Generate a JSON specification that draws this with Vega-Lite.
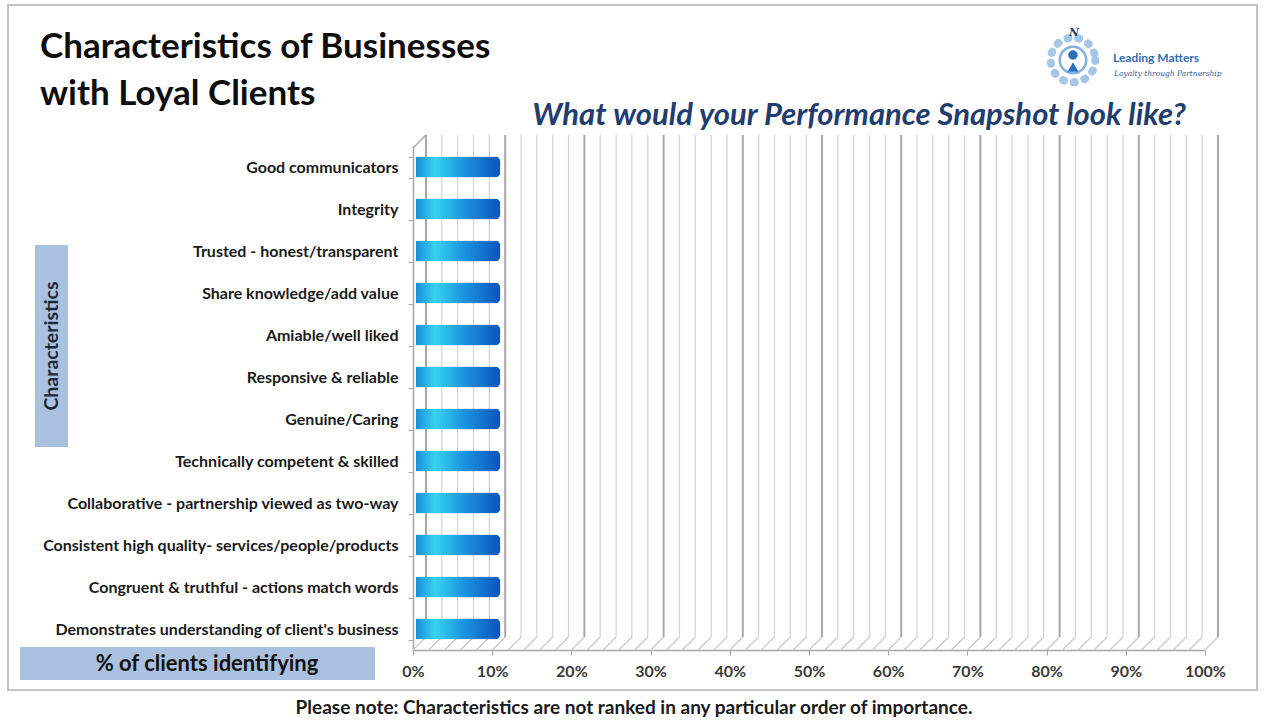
{
  "$schema": "https://vega.github.io/schema/vega-lite/v6.json",
  "width": 792,
  "height": 504,
  "autosize": "none",
  "padding": {"left": 413, "top": 146, "right": 59, "bottom": 72},
  "background": "white",
  "config": {"view": {"stroke": null}, "font": "Lato"},
  "datasets": {
    "bars": [
      {"characteristic": "Good communicators", "pct": 11},
      {"characteristic": "Integrity", "pct": 11},
      {"characteristic": "Trusted - honest/transparent", "pct": 11},
      {"characteristic": "Share knowledge/add value", "pct": 11},
      {"characteristic": "Amiable/well liked", "pct": 11},
      {"characteristic": "Responsive & reliable", "pct": 11},
      {"characteristic": "Genuine/Caring", "pct": 11},
      {"characteristic": "Technically competent & skilled", "pct": 11},
      {"characteristic": "Collaborative - partnership viewed as two-way", "pct": 11},
      {"characteristic": "Consistent high quality- services/people/products", "pct": 11},
      {"characteristic": "Congruent & truthful - actions match words", "pct": 11},
      {"characteristic": "Demonstrates understanding of client's business", "pct": 11}
    ],
    "grid": [
      {"g": 0},{"g": 2},{"g": 4},{"g": 6},{"g": 8},{"g": 10},{"g": 12},{"g": 14},{"g": 16},{"g": 18},
      {"g": 20},{"g": 22},{"g": 24},{"g": 26},{"g": 28},{"g": 30},{"g": 32},{"g": 34},{"g": 36},{"g": 38},
      {"g": 40},{"g": 42},{"g": 44},{"g": 46},{"g": 48},{"g": 50},{"g": 52},{"g": 54},{"g": 56},{"g": 58},
      {"g": 60},{"g": 62},{"g": 64},{"g": 66},{"g": 68},{"g": 70},{"g": 72},{"g": 74},{"g": 76},{"g": 78},
      {"g": 80},{"g": 82},{"g": 84},{"g": 86},{"g": 88},{"g": 90},{"g": 92},{"g": 94},{"g": 96},{"g": 98},
      {"g": 100}
    ],
    "one": [{}]
  },
  "layer": [
    {
      "data": {"name": "one"},
      "mark": {"type": "rect", "fill": null, "stroke": "#c4c4c4", "strokeWidth": 2, "clip": false},
      "encoding": {
        "x": {"value": -405}, "x2": {"value": 844},
        "y": {"value": -141}, "y2": {"value": 544}
      }
    },
    {
      "data": {"name": "grid"},
      "mark": {"type": "rule", "xOffset": 13},
      "encoding": {
        "x": {"field": "g", "type": "quantitative", "scale": {"domain": [0, 100]}},
        "y": {"value": -11},
        "y2": {"value": 491},
        "color": {"condition": {"test": "datum.g % 10 === 0", "value": "#a8a8a8"}, "value": "#d6d6d6"},
        "strokeWidth": {"condition": {"test": "datum.g % 10 === 0", "value": 2}, "value": 1.3}
      }
    },
    {
      "data": {"name": "grid"},
      "mark": {"type": "rule", "x2Offset": 13},
      "encoding": {
        "x": {"field": "g", "type": "quantitative", "scale": {"domain": [0, 100]}},
        "x2": {"field": "g"},
        "y": {"value": 504},
        "y2": {"value": 491},
        "color": {"value": "#c8c8c8"},
        "strokeWidth": {"value": 1.2}
      }
    },
    {
      "data": {"name": "one"},
      "mark": {"type": "rule", "color": "#a8a8a8", "strokeWidth": 1.5, "clip": false},
      "encoding": {
        "x": {"value": 0}, "x2": {"value": 13},
        "y": {"value": 2}, "y2": {"value": -11}
      }
    },
    {
      "data": {"name": "bars"},
      "mark": {
        "type": "bar",
        "cornerRadius": 5,
        "xOffset": 3,
        "x2Offset": 3,
        "color": {
          "gradient": "linear",
          "x1": 0, "y1": 0, "x2": 1, "y2": 0,
          "stops": [
            {"offset": 0, "color": "#1a8edb"},
            {"offset": 0.22, "color": "#36d2ee"},
            {"offset": 0.55, "color": "#1b94df"},
            {"offset": 1, "color": "#0a4fb8"}
          ]
        }
      },
      "encoding": {
        "y": {
          "field": "characteristic", "type": "nominal", "sort": null,
          "scale": {"paddingInner": 0.5, "paddingOuter": 0.25},
          "axis": {
            "title": null,
            "labelFont": "Lato", "labelFontWeight": "bold", "labelFontSize": 16,
            "labelColor": "#1a1a1a", "labelPadding": 10, "labelLimit": 420,
            "tickBand": "extent", "tickSize": 5, "tickColor": "#a8a8a8",
            "domainColor": "#a8a8a8", "domainWidth": 1.5
          }
        },
        "x": {
          "field": "pct", "type": "quantitative",
          "scale": {"domain": [0, 100]},
          "axis": {
            "title": null, "grid": false,
            "values": [0, 10, 20, 30, 40, 50, 60, 70, 80, 90, 100],
            "labelExpr": "datum.value + '%'",
            "labelFlush": false, "labelAlign": "center", "labelOverlap": false,
            "labelFont": "Lato", "labelFontWeight": "bold", "labelFontSize": 16,
            "labelColor": "#3a3a3a", "labelPadding": 8,
            "tickSize": 5, "tickColor": "#a8a8a8", "domainColor": "#a8a8a8", "domainWidth": 1.5
          }
        },
        "size": {"value": 21}
      }
    },
    {
      "data": {"name": "one"},
      "mark": {"type": "text", "align": "left", "baseline": "alphabetic", "fontSize": 35, "fontWeight": "bold", "font": "Lato", "color": "#0d0d0d", "x": -373, "y": -88},
      "encoding": {"text": {"value": "Characteristics of Businesses"}}
    },
    {
      "data": {"name": "one"},
      "mark": {"type": "text", "align": "left", "baseline": "alphabetic", "fontSize": 35, "fontWeight": "bold", "font": "Lato", "color": "#0d0d0d", "x": -373, "y": -41},
      "encoding": {"text": {"value": "with Loyal Clients"}}
    },
    {
      "data": {"name": "one"},
      "mark": {"type": "text", "align": "center", "baseline": "alphabetic", "fontSize": 31, "fontWeight": "bold", "fontStyle": "italic", "font": "Lato", "color": "#1f3d6e", "x": 446, "y": -21},
      "encoding": {"text": {"value": "What would your Performance Snapshot look like?"}}
    },
    {
      "data": {"name": "one"},
      "mark": {"type": "rect", "fill": "#a9c0de", "clip": false},
      "encoding": {"x": {"value": -378}, "x2": {"value": -345}, "y": {"value": 99}, "y2": {"value": 301}}
    },
    {
      "data": {"name": "one"},
      "mark": {"type": "text", "align": "center", "baseline": "middle", "angle": 270, "fontSize": 19.5, "fontWeight": "bold", "font": "Lato", "color": "#1c2838", "x": -361, "y": 200},
      "encoding": {"text": {"value": "Characteristics"}}
    },
    {
      "data": {"name": "one"},
      "mark": {"type": "rect", "fill": "#a9c0de", "clip": false},
      "encoding": {"x": {"value": -393}, "x2": {"value": -38}, "y": {"value": 501}, "y2": {"value": 534}}
    },
    {
      "data": {"name": "one"},
      "mark": {"type": "text", "align": "center", "baseline": "middle", "fontSize": 22, "fontWeight": "bold", "font": "Lato", "color": "#111111", "x": -206, "y": 518},
      "encoding": {"text": {"value": "% of clients identifying"}}
    },
    {
      "data": {"name": "one"},
      "mark": {"type": "text", "align": "center", "baseline": "middle", "fontSize": 19, "fontWeight": "bold", "font": "Lato", "color": "#1a1a1a", "x": 221, "y": 562},
      "encoding": {"text": {"value": "Please note:  Characteristics are not ranked in any particular order of importance."}}
    },
    {
      "data": {"name": "one"},
      "mark": {"type": "point", "shape": "circle", "size": 2000, "filled": false, "stroke": "#7fb0dd", "strokeWidth": 8, "strokeDash": [1, 10], "strokeCap": "round", "x": 660, "y": -86},
      "encoding": {}
    },
    {
      "data": {"name": "one"},
      "mark": {"type": "point", "shape": "circle", "size": 700, "filled": false, "stroke": "#4f8fcf", "strokeWidth": 2.5, "x": 660, "y": -86},
      "encoding": {}
    },
    {
      "data": {"name": "one"},
      "mark": {"type": "point", "shape": "circle", "size": 90, "filled": true, "fill": "#2a6fbd", "opacity": 1, "x": 660, "y": -91},
      "encoding": {}
    },
    {
      "data": {"name": "one"},
      "mark": {"type": "point", "shape": "triangle-up", "size": 120, "filled": true, "fill": "#2a6fbd", "opacity": 1, "x": 660, "y": -79},
      "encoding": {}
    },
    {
      "data": {"name": "one"},
      "mark": {"type": "text", "align": "center", "baseline": "middle", "fontSize": 11, "fontStyle": "italic", "fontWeight": "bold", "font": "DejaVu Serif", "color": "#1f3d6e", "x": 661, "y": -113},
      "encoding": {"text": {"value": "N"}}
    },
    {
      "data": {"name": "one"},
      "mark": {"type": "text", "align": "left", "baseline": "middle", "fontSize": 12, "fontWeight": "bold", "font": "Lato", "color": "#2e6db5", "x": 700, "y": -88},
      "encoding": {"text": {"value": "Leading Matters"}}
    },
    {
      "data": {"name": "one"},
      "mark": {"type": "text", "align": "left", "baseline": "middle", "fontSize": 7.5, "fontStyle": "italic", "font": "DejaVu Serif", "color": "#2e5f9e", "x": 701, "y": -72},
      "encoding": {"text": {"value": "Loyalty through Partnership"}}
    }
  ]
}
